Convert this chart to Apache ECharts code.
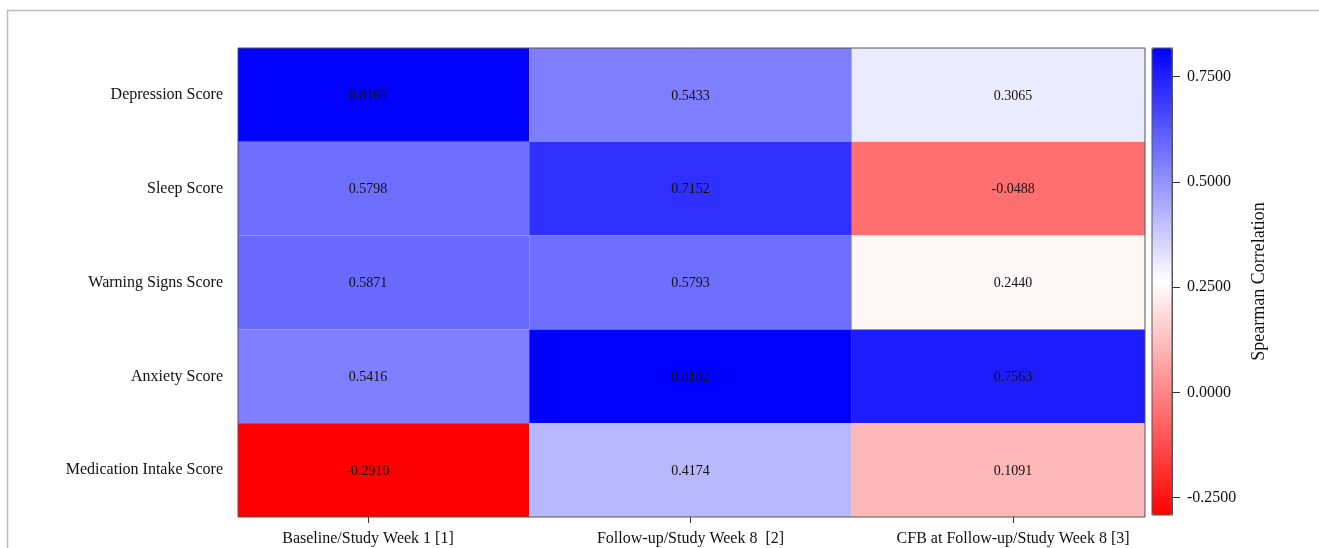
<!DOCTYPE html>
<html>
<head>
<meta charset="utf-8">
<title>Spearman Correlation Heatmap</title>
<script src="https://cdn.jsdelivr.net/npm/echarts@6/dist/echarts.min.js"></script>
<style>
  html, body { margin: 0; padding: 0; background: #ffffff; }
  #chart { width: 1319px; height: 548px; }
</style>
</head>
<body>
<div id="chart"></div>
<script>
// Rows (top to bottom) and columns of the correlation table
const scoreNames = ['Depression Score', 'Sleep Score', 'Warning Signs Score', 'Anxiety Score', 'Medication Intake Score'];
const visitNames = ['Baseline/Study Week 1 [1]', 'Follow-up/Study Week 8  [2]', 'CFB at Follow-up/Study Week 8 [3]'];

// Spearman correlations, one array per visit column, in row order
const baselineWeek1 = [0.8160, 0.5798, 0.5871, 0.5416, -0.2910];
const followUpWeek8 = [0.5433, 0.7152, 0.5793, 0.8182, 0.4174];
const cfbWeek8 = [0.3065, -0.0488, 0.2440, 0.7563, 0.1091];

// Colour bar tick values
const colorBarTicks = [-0.25, 0, 0.25, 0.5, 0.75];

const columns = [baselineWeek1, followUpWeek8, cfbWeek8];
const cells = [];
columns.forEach((col, ci) => {
  col.forEach((v, ri) => cells.push([ci, ri, v]));
});
const allValues = cells.map(c => c[2]);
const vMin = Math.min.apply(null, allValues);
const vMax = Math.max.apply(null, allValues);

const serif = '"Liberation Serif", "Times New Roman", serif';

const chart = echarts.init(document.getElementById('chart'), null, { renderer: 'canvas' });

chart.setOption({
  backgroundColor: '#ffffff',
  animation: false,
  textStyle: { fontFamily: serif },
  graphic: [
    {
      type: 'rect',
      silent: true,
      z: 0,
      shape: { x: 7.5, y: 10.5, width: 1400, height: 600 },
      style: { fill: 'none', stroke: '#bdbdbd', lineWidth: 1.5 }
    },
    {
      type: 'rect',
      silent: true,
      z: 100,
      shape: { x: 1152, y: 48, width: 20, height: 467 },
      style: { fill: 'none', stroke: '#555555', lineWidth: 1 }
    }
  ],
  grid: [
    { left: 238, top: 48, width: 907, height: 469, show: true, borderColor: '#555555', borderWidth: 1, backgroundColor: 'transparent', z: 3 },
    { left: 1152, top: 48, width: 20, height: 467, show: false }
  ],
  xAxis: [
    {
      gridIndex: 0,
      type: 'value',
      min: -0.403,
      max: 2.409,
      splitLine: { show: false },
      axisLine: { show: false },
      axisTick: { show: true, length: 6, customValues: [0, 1, 2], lineStyle: { color: '#333' } },
      axisLabel: {
        customValues: [0, 1, 2],
        formatter: v => visitNames[Math.round(v)],
        color: '#111',
        fontSize: 16,
        fontFamily: serif,
        margin: 14
      }
    },
    { gridIndex: 1, type: 'value', show: false }
  ],
  yAxis: [
    {
      gridIndex: 0,
      type: 'category',
      inverse: true,
      data: scoreNames,
      axisLine: { show: false },
      axisTick: { show: true, length: 7, alignWithLabel: true, lineStyle: { color: '#333' } },
      axisLabel: { color: '#111', fontSize: 16, fontFamily: serif, margin: 15, padding: [3, 0, 0, 0] },
      splitLine: { show: false }
    },
    {
      gridIndex: 1,
      type: 'value',
      position: 'right',
      z: 20,
      min: vMin,
      max: vMax,
      splitLine: { show: false },
      axisLine: { show: true, onZero: false, lineStyle: { color: '#555555', width: 1 } },
      axisTick: { show: true, inside: false, length: 8, customValues: colorBarTicks, lineStyle: { color: '#333', width: 1 } },
      axisLabel: {
        customValues: colorBarTicks,
        formatter: v => v.toFixed(4),
        color: '#111',
        fontSize: 16,
        fontFamily: serif,
        margin: 15
      },
      name: 'Spearman Correlation',
      nameLocation: 'middle',
      nameRotate: 90,
      nameGap: 78,
      nameTextStyle: { color: '#111', fontSize: 18, fontFamily: serif }
    }
  ],
  visualMap: {
    type: 'continuous',
    min: vMin,
    max: vMax,
    dimension: 2,
    seriesIndex: 0,
    orient: 'vertical',
    left: 1152,
    top: 48,
    padding: 0,
    z: 2,
    itemWidth: 20,
    itemHeight: 467,
    calculable: false,
    showLabel: false,
    text: null,
    hoverLink: false,
    inRange: { color: ['#ff0000', '#ffffff', '#0000ff'] }
  },
  series: [
    {
      type: 'custom',
      xAxisIndex: 0,
      yAxisIndex: 0,
      data: cells,
      encode: { x: 0, y: 1 },
      z: 2,
      renderItem: function (params, api) {
        const c = api.coord([api.value(0), api.value(1)]);
        const s = api.size([1, 1]);
        const cs = params.coordSys;
        const rect = echarts.graphic.clipRectByRect(
          { x: c[0] - s[0] / 2, y: c[1] - s[1] / 2, width: s[0], height: s[1] },
          { x: cs.x, y: cs.y, width: cs.width, height: cs.height }
        );
        return {
          type: 'group',
          children: [
            { type: 'rect', shape: rect, style: { fill: api.visual('color') } },
            {
              type: 'text',
              style: {
                x: c[0],
                y: c[1] + 1,
                text: api.value(2).toFixed(4),
                align: 'center',
                verticalAlign: 'middle',
                fill: '#111',
                font: '14px ' + serif
              }
            }
          ]
        };
      }
    }
  ]
});
</script>
</body>
</html>
